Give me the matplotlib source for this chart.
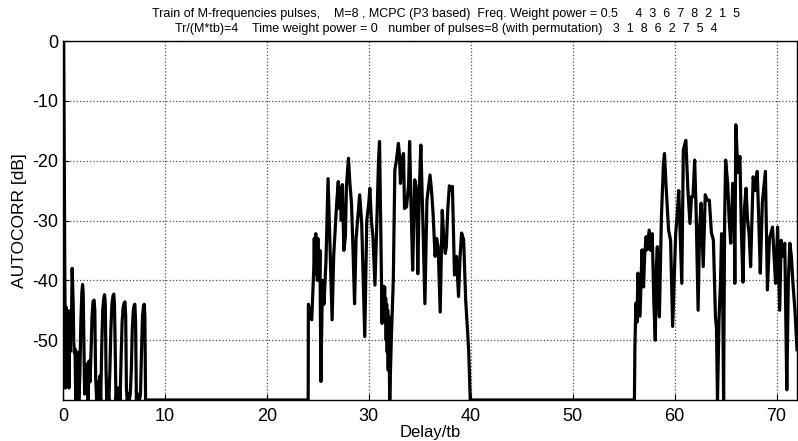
import matplotlib
matplotlib.use("Agg")
import matplotlib.pyplot as plt

plt.rcParams['font.family'] = ['Liberation Sans', 'DejaVu Sans']
plt.rcParams['axes.unicode_minus'] = False

# ---- data ----
delay_left = [0.07, 0.09, 0.12, 0.15, 0.18, 0.21, 0.24, 0.27, 0.32, 0.37, 0.42, 0.47, 0.52, 0.58, 0.63, 0.68,
              0.75, 0.82, 0.9, 0.95, 1.0, 1.05, 1.1, 1.18, 1.25, 1.3, 1.4, 1.48, 1.55, 1.65, 1.75, 1.85, 1.92,
              1.98, 2.05, 2.12, 2.2, 2.28, 2.35, 2.45, 2.55, 2.65, 2.75, 2.85, 2.95, 3.05, 3.12, 3.2, 3.3, 3.4,
              3.5, 3.6, 3.7, 3.8, 3.9, 4.0, 4.08, 4.15, 4.22, 4.3, 4.4, 4.5, 4.6, 4.7, 4.8, 4.9, 4.98, 5.05,
              5.12, 5.2, 5.3, 5.4, 5.5, 5.6, 5.7, 5.8, 5.9, 6.0, 6.08, 6.15, 6.22, 6.3, 6.4, 6.5, 6.6, 6.7, 6.8,
              6.9, 6.98, 7.05, 7.12, 7.2, 7.35, 7.5, 7.6, 7.7, 7.8, 7.9, 7.97, 8.03, 8.1]
acorr_left = [0, -8, -20, -32, -40, -46, -58, -46, -44.5, -49, -45, -52, -47, -58, -48, -52,
              -45, -48, -38, -41, -44, -50, -52, -51.5, -60, -52, -59, -52, -60, -56, -47, -42, -40.7,
              -42, -50, -59, -55, -58, -54, -60, -53.5, -57, -52, -46, -43.5, -43.3, -45, -56, -60, -57,
              -60, -56, -60, -51, -45, -43, -42.4, -44, -55, -60, -58, -60, -55, -48, -44, -42.6, -42.3, -44,
              -52, -60, -58, -60, -58, -60, -53, -47, -44.5, -43.8, -43.6, -46, -58, -60, -59, -60, -59, -55, -48,
              -45, -44.2, -44, -47, -60, -59, -60, -59, -52, -46, -44.3, -44, -46, -60]

delay_mid = [24.05, 24.07, 24.2, 24.4, 24.6, 24.65, 24.7, 24.75, 24.8, 24.85, 24.9, 24.95, 25.0, 25.05,
             25.1, 25.15, 25.2, 25.3, 25.45, 25.6, 25.8, 26.0, 26.2,
             26.4, 26.55, 26.7, 26.85, 27.0, 27.1, 27.2, 27.3, 27.4, 27.55, 27.7, 27.8, 28.0, 28.15, 28.3,
             28.45, 28.6, 28.75, 28.9, 29.0, 29.1, 29.3, 29.45, 29.6, 29.8, 30.0, 30.1, 30.25, 30.4, 30.6,
             30.8, 30.95, 31.05, 31.2, 31.3, 31.35, 31.4, 31.45, 31.5, 31.55, 31.6, 31.65, 31.7, 31.75, 31.8,
             31.85, 31.9, 31.95, 32.05, 32.2, 32.4,
             32.55, 32.7, 32.9, 33.0, 33.1, 33.25, 33.4, 33.5, 33.7, 33.9, 34.0, 34.15, 34.3, 34.5, 34.7,
             34.8, 34.95, 35.1, 35.3, 35.5, 35.7, 36.0, 36.15, 36.3, 36.5, 36.65, 36.8, 37.0, 37.2, 37.35,
             37.5, 37.6, 37.75, 37.9, 38.05, 38.2, 38.4, 38.6, 38.8, 38.95, 39.1, 39.3, 39.5, 39.6, 39.7,
             39.8, 39.95]
acorr_mid = [-60, -44, -45, -46.6, -38, -33, -39, -33, -32.2, -37, -34, -40, -33, -38,
             -35, -40, -35, -56.9, -40, -44, -36.6, -23, -35,
             -46.6, -36, -31.6, -27, -23.5, -28, -24.5, -30, -24, -35, -32.7, -24.3, -19.6, -24, -27.1,
             -35, -43.9, -33, -29.9, -28, -25.7, -30.5, -40, -49.4, -30, -27, -24.6, -30, -32.7, -40.8,
             -29.4, -20, -16.8, -35.5, -47.2, -42, -46.6, -41, -45, -41.1, -47, -43, -50, -44, -52,
             -45, -55, -46, -60, -50, -40,
             -21.6, -20, -17.1, -19, -23.8, -20, -18.8, -28, -27.7, -24, -16.8, -28, -38.3, -23.2, -24.9,
             -38.9, -25, -17.4, -30, -43.9, -26.6, -22.4, -25, -28.8, -36, -33, -34.4, -45.3, -28.3, -33,
             -35.5, -34.4, -28, -24.2, -25, -24.3, -39.1, -36, -42.7, -36, -32.1, -33.2, -43.3, -46, -48.9,
             -52, -60]

delay_right = [56.05, 56.1, 56.2, 56.3, 56.4, 56.6, 56.8, 56.95, 57.05, 57.2, 57.3, 57.5, 57.65, 57.8, 57.95,
               58.1, 58.2, 58.3, 58.4, 58.5, 58.7, 58.9, 59.0, 59.15, 59.4, 59.6, 59.8, 60.1, 60.25, 60.4, 60.55,
               60.7, 60.85, 61.1, 61.3, 61.5, 61.65, 61.8, 61.96, 62.1, 62.3, 62.45, 62.6, 62.8, 63.0, 63.2,
               63.4, 63.6, 63.8, 64.0, 64.1, 64.2, 64.35, 64.5, 64.6, 64.7, 64.8, 64.9, 65.0, 65.2, 65.35,
               65.5, 65.7, 65.85, 65.9, 66.0, 66.2, 66.4, 66.55, 66.7, 66.85, 67.0, 67.15, 67.3, 67.45, 67.7,
               67.9, 68.1, 68.25, 68.4, 68.6, 68.9, 69.1, 69.3, 69.6, 69.75, 69.9, 70.1, 70.3, 70.45, 70.6,
               70.8, 71.0, 71.15, 71.3, 71.45, 71.6, 71.8, 72.0]
acorr_right = [-60, -51.1, -43.8, -47, -38.8, -46, -34.9, -41.1, -36, -32.7, -34.9, -31.6, -35, -32.2, -43.3,
               -50, -38, -34.4, -42, -46.1, -29.4, -20.5, -18.8, -24, -31.6, -33.3, -47.7, -32.2, -29, -25, -33,
               -40.5, -18.2, -16.6, -25, -30.5, -26, -26, -19.9, -28, -45, -31, -27.1, -37.7, -25.7, -26.6,
               -26.6, -32, -33.3, -46.1, -48, -60, -46.6, -40, -32.2, -40, -60, -30, -19.9, -23.8, -30,
               -33.8, -23.8, -30, -40.5, -14, -22, -19.3, -32.2, -40.3, -28, -24.6, -30, -32.2, -37.7, -22.7,
               -25, -21.8, -30, -38.8, -27, -21.8, -41.6, -33, -31.1, -36, -40.5, -31.1, -45, -33.3, -36,
               -33.8, -58.3, -40, -33.8, -36, -40.5, -45, -51.6]

x_ticks = [0, 10, 20, 30, 40, 50, 60, 70]
y_ticks = [-50, -40, -30, -20, -10, 0]
title_line1 = ("Train of M-frequencies pulses,    M=8 , MCPC (P3 based)  Freq. Weight power = 0.5     "
               "4  3  6  7  8  2  1  5")
title_line2 = ("Tr/(M*tb)=4    Time weight power = 0   number of pulses=8 (with permutation)   "
               "3  1  8  6  2  7  5  4")

delay = delay_left + delay_mid + delay_right
acorr = acorr_left + acorr_mid + acorr_right

fig = plt.figure(figsize=(7.98, 4.41), dpi=100)
ax = fig.add_axes([63/798, 1 - 400/441, (797 - 63)/798, (400 - 41)/441])

ax.plot(delay, acorr, color='black', linewidth=2.3, solid_joinstyle='round', zorder=3)

ax.set_xlim(0, 72)
ax.set_ylim(-60, 0)
ax.set_xticks(x_ticks)
ax.set_yticks(y_ticks)
ax.tick_params(direction='in', length=4, labelsize=13, width=0.8, colors='black')
ax.tick_params(axis='x', pad=6)
ax.grid(True, linestyle=':', color='0.3', linewidth=0.9)
for s in ax.spines.values():
    s.set_linewidth(1.0)
    s.set_color('black')
    s.set_zorder(2.5)

ax.set_xlabel('Delay/tb', fontsize=12, labelpad=0)
ax.set_ylabel('AUTOCORR [dB]', fontsize=12.5, labelpad=4)

fig.text(0.559, 0.968, title_line1, ha='center', va='center', fontsize=9)
fig.text(0.559, 0.934, title_line2, ha='center', va='center', fontsize=9)

fig.savefig('out.png', dpi=100)
